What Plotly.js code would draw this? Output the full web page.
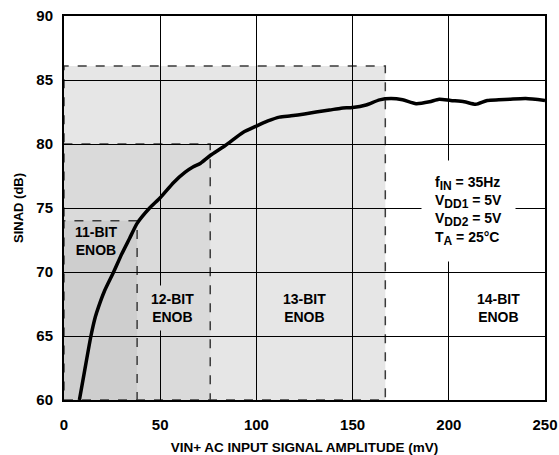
<!DOCTYPE html>
<html>
<head>
<meta charset="utf-8">
<script src="https://cdn.plot.ly/plotly-3.0.1.min.js"></script>
<style>html,body{margin:0;padding:0;background:#fff;}#chart{width:559px;height:455px;}</style>
</head>
<body>
<div id="chart"></div>
<script>
// ---- data ----
const amplitudeMv = [8, 10.5, 14, 16.3, 18, 21, 25.8, 30, 34, 38, 44.5, 50, 57, 63, 67, 71, 76, 84, 93, 100, 106, 112, 118, 125, 131, 138, 144, 150, 157, 164, 170, 176, 183, 190, 195, 201, 208, 214, 220, 226, 232, 240, 250];
const sinadDb    = [60, 62.1, 65, 66.5, 67.3, 68.5, 70, 71.4, 72.6, 73.8, 75, 75.8, 77, 77.8, 78.2, 78.5, 79.1, 79.9, 80.9, 81.4, 81.8, 82.1, 82.2, 82.35, 82.5, 82.65, 82.8, 82.85, 83.05, 83.45, 83.55, 83.45, 83.15, 83.3, 83.5, 83.4, 83.3, 83.1, 83.4, 83.45, 83.5, 83.55, 83.4];
const xTicks = [0, 50, 100, 150, 200, 250];
const yTicks = [60, 65, 70, 75, 80, 85, 90];
// ENOB boxes: full-scale amplitude (mV) and SINAD threshold (dB)
const boxAmplitude = [167, 76, 38];
const boxSinad = [86.1, 80.0, 74.0];
const boxFills = ['#e6e6e6', '#dadada', '#cecece'];
const enobLabels = ['11-BIT<br>ENOB', '12-BIT<br>ENOB', '13-BIT<br>ENOB', '14-BIT<br>ENOB'];
const enobLabelX = [16.5, 56.2, 125, 225.6];
const enobLabelY = [72.4, 67.2, 67.2, 67.2];
const enobLabelBg = ['rgba(0,0,0,0)', '#dadada', 'rgba(0,0,0,0)', 'rgba(0,0,0,0)'];
const sub = s => '<sub><span style="font-size:12px">' + s + '</span></sub>';
const conditions = 'f' + sub('IN') + ' = 35Hz<br>V' + sub('DD1') + ' = 5V<br>V' + sub('DD2') + ' = 5V<br>T' + sub('A') + ' = 25°C';

const shapes = boxAmplitude.map((a, i) => ({
  type: 'rect', xref: 'x', yref: 'y', layer: 'below',
  x0: 0, x1: a, y0: 60, y1: boxSinad[i],
  fillcolor: boxFills[i],
  line: {color: '#3a3a3a', width: 1.5, dash: 'dash'}
}));

const annotations = enobLabels.map((t, i) => ({
  x: enobLabelX[i], y: enobLabelY[i], xref: 'x', yref: 'y',
  text: t, showarrow: false, bgcolor: enobLabelBg[i], borderpad: 5,
  font: {size: 14, color: '#000', weight: 'bold'}
}));
annotations.push({
  x: 210, y: 74.8, xref: 'x', yref: 'y', text: conditions, showarrow: false,
  align: 'left', bgcolor: '#ffffff', borderpad: 13,
  font: {size: 14, color: '#000', weight: 'bold'}
});

const trace = {
  x: amplitudeMv, y: sinadDb, type: 'scatter', mode: 'lines',
  line: {color: '#000', width: 3.5, shape: 'spline', smoothing: 0.6},
  hoverinfo: 'skip'
};

const axisCommon = {
  showgrid: true, gridcolor: '#000', gridwidth: 1,
  showline: true, linecolor: '#000', linewidth: 2, mirror: true,
  zeroline: false, ticks: 'outside', tickcolor: 'rgba(0,0,0,0)',
  tickfont: {size: 15, color: '#000', weight: 'bold'}
};

const layout = {
  width: 559, height: 455,
  margin: {l: 64, r: 14, t: 16, b: 55},
  paper_bgcolor: '#fff', plot_bgcolor: '#fff',
  font: {family: 'Liberation Sans, Arial, sans-serif', color: '#000', weight: 'bold'},
  showlegend: false,
  xaxis: Object.assign({}, axisCommon, {
    range: [0, 250], tickvals: xTicks, ticklen: 10,
    title: {text: 'VIN+ AC INPUT SIGNAL AMPLITUDE (mV)', font: {size: 13.5, weight: 'bold'}, standoff: 11}
  }),
  yaxis: Object.assign({}, axisCommon, {
    range: [60, 90], tickvals: yTicks, ticklen: 6,
    title: {text: 'SINAD (dB)', font: {size: 13, weight: 'bold'}, standoff: 10}
  }),
  shapes: shapes,
  annotations: annotations
};

Plotly.newPlot('chart', [trace], layout, {staticPlot: true, displayModeBar: false});
</script>
</body>
</html>
